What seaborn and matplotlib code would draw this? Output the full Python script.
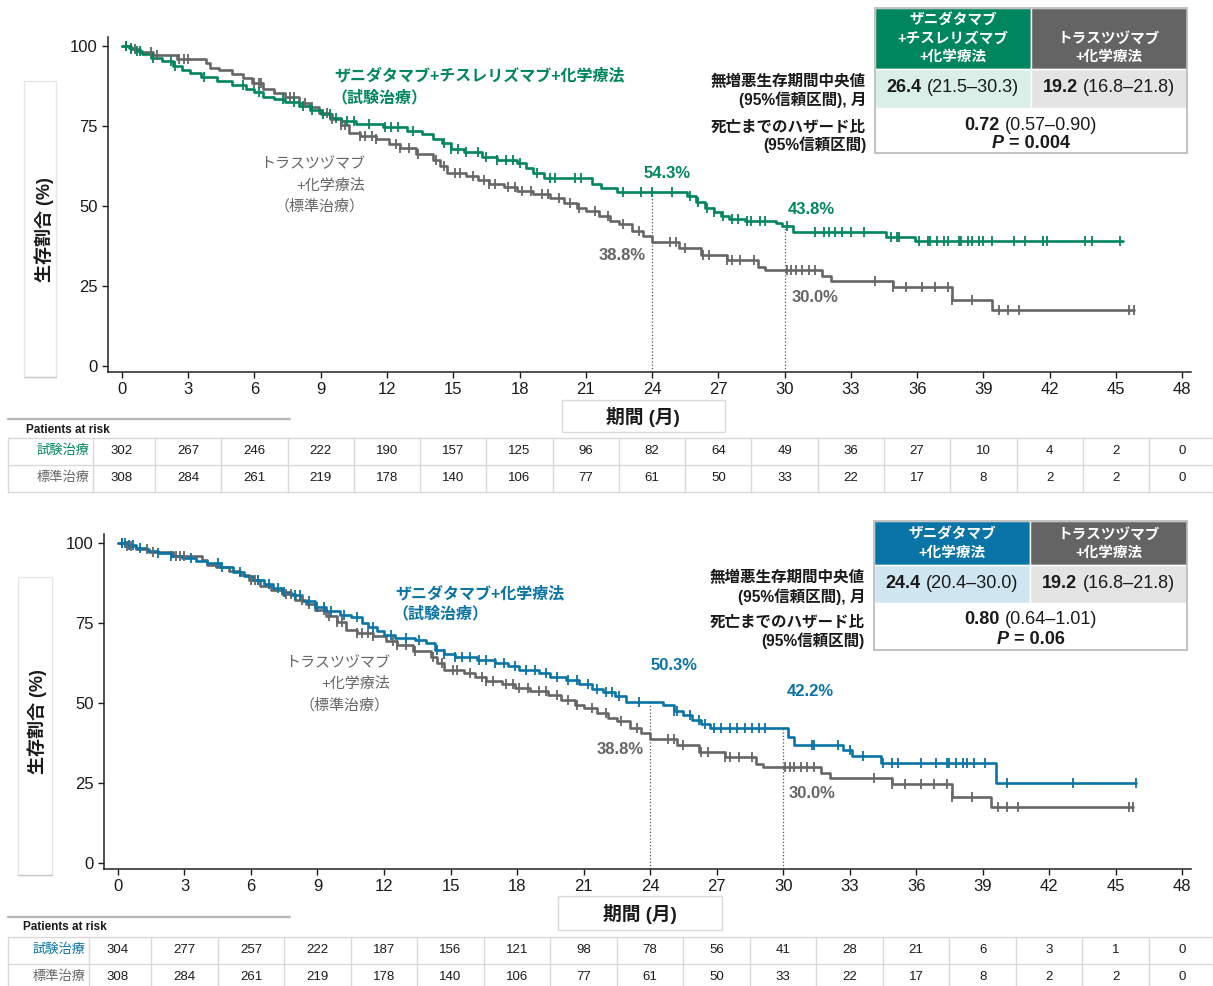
import numpy as np
import matplotlib
matplotlib.use("Agg")
import matplotlib.pyplot as plt
import matplotlib.transforms as mtransforms
from matplotlib.patches import Rectangle
import seaborn as sns

sns.set_style("ticks")
plt.rcParams["font.family"] = ["Liberation Sans", "Noto Sans CJK JP"]

# ---------------- data ----------------
# standard arm: trastuzumab + chemotherapy (same arm in both panels)
std_t = [0, 0.4, 0.8, 1.4, 2.5, 3.8, 4.0, 4.4, 5.0, 5.5, 5.9, 6.4, 6.9, 7.4, 8.0, 8.5, 8.9, 9.4, 9.9, 10.3,
         10.8, 11.5, 12.1, 12.6, 13.3, 14.1, 14.4, 14.7, 15.6, 16.1, 16.6, 17.3, 17.9, 18.6, 19.4, 20.0, 20.6,
         21.0, 21.6, 22.1, 22.5, 23.1, 23.6, 24.0, 25.2, 26.2, 27.4, 28.8, 29.1, 31.7, 32.1, 34.9, 37.6, 39.4, 45.8]
std_s = [100, 99.0, 98.2, 97.2, 95.9, 94.7, 93.2, 92.4, 91.2, 89.9, 88.3, 86.6, 85.2, 84.0, 82.3, 80.8, 79.0, 77.2,
         75.2, 72.9, 72.0, 70.8, 69.3, 68.0, 66.3, 64.3, 62.5, 60.4, 59.3, 58.0, 57.0, 55.8, 54.6, 53.6, 52.4,
         51.0, 49.5, 48.3, 46.8, 45.3, 44.2, 42.3, 40.5, 38.8, 36.7, 34.6, 33.1, 30.8, 30.0, 28.0, 26.4, 24.8,
         20.6, 17.4, 17.4]
std_cens = [0.2, 0.4, 0.6, 1.3, 1.6, 2.6, 2.8, 3.0, 6.0, 6.2, 6.3, 7.6, 7.8, 8.3, 8.6, 9.3, 9.5, 9.9, 10.1, 10.8,
            11.0, 11.3, 11.5, 12.4, 12.6, 13.0, 13.4, 14.2, 14.6, 15.1, 15.3, 15.9, 16.4, 16.6, 16.9, 17.5, 17.8,
            18.1, 18.5, 19.0, 19.3, 19.8, 20.3, 20.7, 21.4, 22.0, 22.7, 23.4, 24.8, 25.1, 25.5, 26.3, 26.6, 27.4,
            27.6, 28.0, 28.6, 30.1, 30.3, 30.5, 30.8, 31.1, 31.4, 34.1, 34.9, 35.5, 36.2, 36.8, 37.4, 37.6, 38.5,
            39.7, 40.1, 40.6, 45.6, 45.8]

# zanidatamab + tislelizumab + chemotherapy (top panel)
zt_t = [0, 0.3, 0.6, 0.9, 1.3, 1.8, 2.3, 2.7, 3.1, 3.6, 4.3, 5.0, 5.6, 6.0, 6.4, 6.9, 7.4, 8.0, 8.5, 9.0,
        9.5, 9.9, 10.6, 11.8, 12.9, 13.6, 14.1, 14.5, 14.9, 15.5, 16.3, 17.0, 17.9, 18.3, 18.6, 19.1, 21.3,
        21.7, 22.4, 25.6, 26.0, 26.4, 26.8, 27.1, 27.5, 28.2, 29.6, 29.9, 30.4, 34.6, 35.9, 45.3]
zt_s = [100, 99.3, 98.4, 97.4, 96.3, 95.3, 93.7, 92.6, 91.5, 90.2, 89.2, 87.8, 86.7, 85.5, 84.2, 83.3, 82.4,
        81.2, 80.0, 78.8, 77.6, 76.6, 75.6, 74.6, 73.4, 72.4, 71.0, 69.8, 67.8, 66.8, 65.2, 64.4, 63.3, 61.8,
        60.2, 58.6, 56.8, 55.5, 54.3, 53.2, 51.3, 49.4, 48.0, 46.9, 45.9, 45.2, 44.6, 43.8, 41.8, 40.3, 39.1, 39.1]
zt_cens = [0.2, 0.4, 0.7, 0.8, 1.4, 2.2, 2.4, 3.7, 5.5, 6.2, 7.3, 7.8, 8.2, 8.6, 9.1, 9.4, 9.7, 10.2, 10.5,
           11.2, 11.9, 12.2, 12.5, 13.2, 14.6, 14.9, 15.2, 15.6, 16.1, 16.5, 17.0, 17.4, 17.7, 18.0, 18.8,
           19.4, 19.6, 20.5, 20.8, 22.7, 23.5, 24.0, 24.9, 25.7, 26.1, 26.5, 26.8, 27.2, 27.6, 27.9, 28.3,
           28.5, 28.9, 29.1, 30.1, 31.4, 31.8, 32.0, 32.3, 32.6, 33.0, 33.6, 34.8, 35.1, 35.2, 36.1, 36.5,
           36.6, 36.9, 37.2, 37.4, 37.9, 38.0, 38.3, 38.5, 38.8, 39.0, 39.4, 40.4, 40.9, 41.7, 41.9, 43.6,
           43.9, 45.2]

# zanidatamab + chemotherapy (bottom panel)
zc_t = [0, 0.4, 0.8, 1.3, 1.8, 2.4, 2.9, 3.5, 4.0, 4.6, 5.2, 5.7, 6.1, 6.6, 7.0, 7.4, 7.8, 8.3, 8.9, 9.4,
        10.0, 10.5, 11.0, 11.3, 11.7, 12.0, 12.5, 13.4, 13.9, 14.3, 14.7, 15.2, 16.2, 17.0, 17.6, 18.1, 19.0,
        19.5, 20.2, 20.8, 21.4, 21.9, 22.4, 22.9, 24.6, 25.1, 25.5, 25.9, 26.3, 26.7, 30.2, 30.5, 32.7, 33.1,
        34.4, 39.6, 45.9]
zc_s = [100, 99.3, 98.4, 97.6, 96.8, 96.0, 95.3, 94.5, 93.7, 92.5, 91.0, 89.8, 88.4, 87.2, 86.0, 84.6, 83.6,
        82.0, 80.0, 78.6, 77.5, 76.8, 75.0, 73.8, 72.4, 71.3, 70.4, 69.6, 68.8, 66.5, 65.2, 64.4, 63.5, 62.5,
        61.5, 60.3, 59.5, 58.2, 57.2, 55.9, 54.5, 53.3, 52.2, 50.3, 49.3, 47.6, 46.2, 44.8, 43.5, 42.2, 39.5,
        37.0, 35.3, 33.5, 31.2, 25.1, 25.1]
zc_cens = [0.2, 0.3, 0.5, 0.7, 1.0, 1.8, 2.4, 3.3, 4.5, 4.7, 5.5, 6.3, 6.8, 7.2, 7.5, 8.0, 8.2, 8.6, 9.0, 9.3,
           9.6, 10.2, 10.8, 11.5, 12.3, 13.0, 13.6, 14.4, 14.7, 15.2, 15.5, 15.9, 16.3, 16.6, 17.0, 17.4, 17.9,
           18.4, 18.8, 19.3, 19.8, 20.3, 20.7, 21.2, 21.6, 22.0, 22.3, 22.6, 23.5, 25.1, 25.2, 25.8, 26.2, 26.5,
           26.9, 27.2, 27.6, 27.9, 28.3, 28.6, 28.9, 29.2, 31.3, 31.4, 32.5, 33.0, 33.6, 34.5, 34.9, 35.2, 36.2,
           36.9, 37.4, 37.5, 37.8, 38.1, 38.3, 38.6, 39.1, 40.1, 43.1, 45.9]

# patients at risk
risk_months = [0, 3, 6, 9, 12, 15, 18, 21, 24, 27, 30, 33, 36, 39, 42, 45, 48]
risk_zt = [302, 267, 246, 222, 190, 157, 125, 96, 82, 64, 49, 36, 27, 10, 4, 2, 0]
risk_zc = [304, 277, 257, 222, 187, 156, 121, 98, 78, 56, 41, 28, 21, 6, 3, 1, 0]
risk_std = [308, 284, 261, 219, 178, 140, 106, 77, 61, 50, 33, 22, 17, 8, 2, 2, 0]

# landmark rates (%)
landmarks = [24, 30]
pct_zt = [54.3, 43.8]
pct_zc = [50.3, 42.2]
pct_std = [38.8, 30.0]

# summary tables
med_zt = ("26.4", "(21.5–30.3)")
med_zc = ("24.4", "(20.4–30.0)")
med_std = ("19.2", "(16.8–21.8)")
hr_zt = ("0.72", "(0.57–0.90)", "0.004")
hr_zc = ("0.80", "(0.64–1.01)", "0.06")

GREEN = "#00865e"
BLUE = "#0a74a6"
GRAY = "#666666"
TXT = "#1a1a1a"

W, H = 1213, 986
fig = plt.figure(figsize=(W / 100, H / 100), dpi=100)
ax1 = fig.add_axes([108 / W, (H - 372) / H, 1083 / W, 335 / H])
ax2 = fig.add_axes([104 / W, (H - 869) / H, 1087 / W, 335 / H])
ov = fig.add_axes([0, 0, 1, 1])
ov.set_xlim(0, W)
ov.set_ylim(H, 0)
ov.axis("off")
renderer = fig.canvas.get_renderer()


def step_at(t, s, times):
    t = np.asarray(t)
    s = np.asarray(s)
    idx = np.searchsorted(t, times, side="right") - 1
    return s[np.clip(idx, 0, len(s) - 1)]


def km_curve(ax, t, s, cens, color):
    sns.lineplot(x=t, y=s, drawstyle="steps-post", color=color, lw=1.9,
                 estimator=None, ax=ax, zorder=3)
    ax.plot(cens, step_at(t, s, cens), ls="none", marker="|", ms=7, mew=1.3,
            color=color, zorder=4)


def style_axes(ax):
    ax.set_xlim(-0.63, 48.4)
    ax.set_ylim(-1.9, 102.8)
    ax.set_xticks(risk_months)
    ax.set_yticks([0, 25, 50, 75, 100])
    ax.tick_params(labelsize=12, length=4, width=1, colors=TXT, direction="out")
    for sp in ["left", "bottom"]:
        ax.spines[sp].set_linewidth(1.1)
        ax.spines[sp].set_color("#222222")
    sns.despine(ax=ax)
    ax.set_ylabel("生存割合 (%)", fontsize=13, fontweight="bold", color=TXT)
    ax.set_xlabel("期間 (月)", fontsize=13.5, fontweight="bold", color=TXT)


def rich_text(x, y, parts, size, color=TXT):
    # parts: list of (text, weight, style); centred at (x, y) in pixel coords
    gap = 0.278 * size * 100 / 72
    arts = [ov.text(0, y, p, fontsize=size, fontweight=w, fontstyle=st, color=color,
                    ha="left", va="center") for p, w, st in parts]
    widths = [a.get_window_extent(renderer).width for a in arts]
    total = sum(widths) + gap * (len(arts) - 1)
    cur = x - total / 2
    for a, wd in zip(arts, widths):
        a.set_x(cur)
        cur += wd + gap


def stats_table(x0, xm, x1, ys, head_color, light, head_lines, head_y, row2_y, row3_y, lab_y,
                med_exp, hr):
    edge = "#b8b8b8"
    ov.add_patch(Rectangle((x0, ys[0]), xm - x0, ys[1] - ys[0], fc=head_color, ec="white", lw=1))
    ov.add_patch(Rectangle((xm, ys[0]), x1 - xm, ys[1] - ys[0], fc="#646464", ec="white", lw=1))
    ov.add_patch(Rectangle((x0, ys[1]), xm - x0, ys[2] - ys[1], fc=light, ec="white", lw=1))
    ov.add_patch(Rectangle((xm, ys[1]), x1 - xm, ys[2] - ys[1], fc="#e4e4e4", ec="white", lw=1))
    ov.add_patch(Rectangle((x0, ys[2]), x1 - x0, ys[3] - ys[2], fc="white", ec="none"))
    ov.add_patch(Rectangle((x0, ys[0]), x1 - x0, ys[3] - ys[0], fc="none", ec=edge, lw=1.2))
    cl, cr = (x0 + xm) / 2, (xm + x1) / 2
    for line, yy in zip(head_lines, head_y[-len(head_lines):]):
        ov.text(cl, yy, line, ha="center", va="center", color="white", fontsize=10.5, fontweight="bold")
    for line, yy in zip(["トラスツヅマブ", "+化学療法"], head_y[-2:]):
        ov.text(cr, yy, line, ha="center", va="center", color="white", fontsize=10.5, fontweight="bold")
    rich_text(cl, row2_y, [(med_exp[0], "bold", "normal"), (med_exp[1], "normal", "normal")], 13)
    rich_text(cr, row2_y, [(med_std[0], "bold", "normal"), (med_std[1], "normal", "normal")], 13)
    rich_text((x0 + x1) / 2, row3_y[0], [(hr[0], "bold", "normal"), (hr[1], "normal", "normal")], 13)
    rich_text((x0 + x1) / 2, row3_y[1], [("P", "bold", "italic"), ("= " + hr[2], "bold", "normal")], 13)
    labels = ["無増悪生存期間中央値", "(95%信頼区間), 月", "死亡までのハザード比", "(95%信頼区間)"]
    for lab, yy in zip(labels, lab_y):
        ov.text(x0 - 9, yy, lab, ha="right", va="center", fontsize=11.2, fontweight="bold", color=TXT)


def risk_table(ax, exp_vals, exp_color, y_line, y_head, rows_y, x_head):
    tr = mtransforms.blended_transform_factory(ax.transData, ov.transData)
    ov.plot([8, 290], [y_line, y_line], color="#b5b5b5", lw=1.6)
    ov.text(x_head, y_head, "Patients at risk", fontsize=8.5, fontweight="bold", color=TXT,
            ha="left", va="center")
    top = rows_y[0] - 13.5
    for k in range(3):
        ov.plot([8, W], [top + 27 * k] * 2, color="#d9d9d9", lw=1)
    ov.plot([8, 8], [top, top + 54], color="#d9d9d9", lw=1)
    for xb in [-1.3] + [m + 1.5 for m in risk_months[:-1]]:
        ov.plot([xb, xb], [top, top + 54], color="#d9d9d9", lw=1, transform=tr)
    for vals, yy, lab, col in [(exp_vals, rows_y[0], "試験治療", exp_color),
                               (risk_std, rows_y[1], "標準治療", GRAY)]:
        ov.text(-1.45, yy, lab, transform=tr, ha="right", va="center", fontsize=9.5, color=col)
        for m, v in zip(risk_months, vals):
            ov.text(m, yy, str(v), transform=tr, ha="center", va="center", fontsize=9.5, color=TXT)


# ---------------- top panel ----------------
km_curve(ax1, std_t, std_s, std_cens, GRAY)
km_curve(ax1, zt_t, zt_s, zt_cens, GREEN)
style_axes(ax1)
ax1.yaxis.set_label_coords(-0.050, 0.424)
ax1.xaxis.set_label_coords(0.494, -0.105)
ax1.vlines(landmarks, -1.9, pct_zt, colors="#555555", linestyles=":", lw=0.9, zorder=2)
for lm, v, off in zip(landmarks, pct_zt, [(11, 13.5), (19, 12)]):
    ax1.annotate(f"{v}%", (lm, v), xytext=off, textcoords="offset points", ha="center", va="center",
                 fontsize=12, fontweight="bold", color=GREEN)
for lm, v, off in zip(landmarks, pct_std, [(-21.6, -10), (21.6, -20)]):
    ax1.annotate(f"{v}%", (lm, v), xytext=off, textcoords="offset points", ha="center", va="center",
                 fontsize=12, fontweight="bold", color=GRAY)
ax1.text(9.6, 90.6, "ザニダタマブ+チスレリズマブ+化学療法", color=GREEN, fontsize=11.5,
         fontweight="bold", ha="left", va="center")
ax1.text(9.5, 84.0, "（試験治療）", color=GREEN, fontsize=11.5, fontweight="bold", ha="left", va="center")
for line, yy in zip(["トラスツヅマブ", "+化学療法", "（標準治療）"], [63.0, 56.4, 49.8]):
    ax1.text(11.0, yy, line, color=GRAY, fontsize=10.8, ha="right", va="center")

stats_table(875, 1031, 1187, [8, 69, 108, 153], GREEN, "#d9efe7",
            ["ザニダタマブ", "+チスレリズマブ", "+化学療法"], [21, 39, 57], 88, [125, 144],
            [82, 100, 127, 145], med_zt, hr_zt)
risk_table(ax1, risk_zt, GREEN, 419, 430, [451, 478], 26)
ov.add_patch(Rectangle((24, 81), 32, 296, fc="none", ec="#e6e6e6", lw=1))
ov.plot([24, 56], [377, 377], color="#c8c8c8", lw=1)
ov.add_patch(Rectangle((562, 400), 163, 32, fc="none", ec="#dadada", lw=1))

# ---------------- bottom panel ----------------
km_curve(ax2, std_t, std_s, std_cens, GRAY)
km_curve(ax2, zc_t, zc_s, zc_cens, BLUE)
style_axes(ax2)
ax2.yaxis.set_label_coords(-0.052, 0.44)
ax2.xaxis.set_label_coords(0.493, -0.105)
ax2.vlines(landmarks, -1.9, pct_zc, colors="#555555", linestyles=":", lw=0.9, zorder=2)
for lm, v, off in zip(landmarks, pct_zc, [(17, 26), (19.5, 26.5)]):
    ax2.annotate(f"{v}%", (lm, v), xytext=off, textcoords="offset points", ha="center", va="center",
                 fontsize=12, fontweight="bold", color=BLUE)
for lm, v, off in zip(landmarks, pct_std, [(-21.6, -8), (21, -19)]):
    ax2.annotate(f"{v}%", (lm, v), xytext=off, textcoords="offset points", ha="center", va="center",
                 fontsize=12, fontweight="bold", color=GRAY)
ax2.text(12.5, 84.1, "ザニダタマブ+化学療法", color=BLUE, fontsize=11.5, fontweight="bold",
         ha="left", va="center")
ax2.text(12.4, 77.8, "（試験治療）", color=BLUE, fontsize=11.5, fontweight="bold", ha="left", va="center")
for line, yy in zip(["トラスツヅマブ", "+化学療法", "（標準治療）"], [62.5, 55.9, 49.4]):
    ax2.text(12.27, yy, line, color=GRAY, fontsize=10.8, ha="right", va="center")

stats_table(874, 1030, 1187, [521, 565, 603, 650], BLUE, "#cfe5ef",
            ["ザニダタマブ", "+化学療法"], [535, 553], 583, [619, 639],
            [578, 597, 622, 641], med_zc, hr_zc)
risk_table(ax2, risk_zc, BLUE, 917, 927, [950, 977], 23)
ov.add_patch(Rectangle((18, 577), 34, 298, fc="none", ec="#e6e6e6", lw=1))
ov.plot([18, 52], [875, 875], color="#c8c8c8", lw=1)
ov.add_patch(Rectangle((558, 896), 164, 34, fc="none", ec="#dadada", lw=1))

fig.savefig("out.png", dpi=100)
